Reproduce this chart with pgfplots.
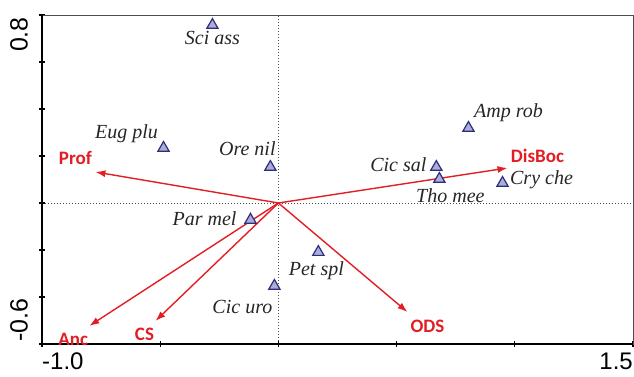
\documentclass[border=0pt]{standalone}
\usepackage{fontspec}
\usepackage{pgfplots}
\usepackage{pgfplotstable}
\pgfplotsset{compat=1.18}
\usetikzlibrary{arrows.meta}
\setmainfont{Liberation Serif}
\newfontfamily\envfont{Carlito}
\newfontfamily\tickfont{Liberation Sans}

\definecolor{arrowred}{RGB}{226,30,36}
\definecolor{trifill}{RGB}{172,172,214}
\definecolor{triedge}{RGB}{45,45,125}

% species scores: x y, label offset (pt), name
\pgfplotstableread{
x      y      dx  dy  label
-0.279  0.757   0 -13 {Sci ass}
-0.486  0.234 -37  14 {Eug plu}
-0.034  0.153 -23  18 {Ore nil}
 0.804  0.319  40  15 {Amp rob}
 0.668  0.153 -38   2 {Cic sal}
 0.681  0.102  11 -17 {Tho mee}
 0.948  0.085  39   3 {Cry che}
-0.118 -0.072 -46   1 {Par mel}
-0.017 -0.353 -32 -21 {Cic uro}
 0.169 -0.209  -2 -19 {Pet spl}
}\species

% environmental arrows: tip x y, label offset (pt), name
\pgfplotstableread{
x      y      dx  dy  label
-0.774  0.132 -20  14 Prof
 0.969  0.149  30  12 DisBoc
-0.800 -0.523 -16 -14 Anc
-0.520 -0.502 -11 -13 CS
 0.546 -0.464  20 -14 ODS
}\envvars

\begin{document}
\begin{tikzpicture}
\useasboundingbox (-42pt,-33pt) rectangle (592pt,344pt);
\begin{axis}[
  at={(0pt,0pt)}, anchor=south west,
  scale only axis,
  width=591pt, height=329pt,
  xmin=-1.0, xmax=1.5, ymin=-0.6, ymax=0.8,
  xtick={-1,-0.5,0,0.5,1,1.5},
  ytick={-0.6,-0.4,-0.2,0,0.2,0.4,0.6,0.8},
  xticklabels={}, yticklabels={},
  xtick pos=bottom, ytick pos=left,
  tick align=center, major tick length=6pt,
  tick style={black, line width=1.2pt},
  axis line style={black!70, line width=0.9pt},
  clip=false,
]
% zero lines
\draw[black!70, line width=0.9pt, dash pattern=on 1pt off 2pt] (axis cs:0,-0.6) -- (axis cs:0,0.8);
\draw[black!70, line width=0.9pt, dash pattern=on 1pt off 2pt] (axis cs:-1,0) -- (axis cs:1.5,0);

% arrows
\addplot[arrowred, line width=1.4pt, -{Latex[length=10pt,width=7pt]},
  quiver={u=\thisrow{x}, v=\thisrow{y}}]
  table[x expr=0, y expr=0] {\envvars};
\addplot[draw=none, mark=none, point meta=explicit symbolic,
  visualization depends on={\thisrow{dx}\as\dx},
  visualization depends on={\thisrow{dy}\as\dy},
  nodes near coords,
  every node near coord/.append style={anchor=center, inner sep=0pt,
    xshift=\dx pt, yshift=\dy pt, text=arrowred,
    font=\envfont\bfseries\fontsize{19}{19}\selectfont}]
  table[meta=label] {\envvars};

% species
\addplot[only marks, mark=triangle*, mark size=6.5pt,
  mark options={fill=trifill, draw=triedge, line width=1.2pt},
  point meta=explicit symbolic,
  visualization depends on={\thisrow{dx}\as\dx},
  visualization depends on={\thisrow{dy}\as\dy},
  nodes near coords,
  every node near coord/.append style={anchor=center, inner sep=0pt,
    xshift=\dx pt, yshift=\dy pt, text=black!85,
    font=\itshape\fontsize{20}{20}\selectfont}]
  table[meta=label] {\species};

\draw[black, line width=1.6pt] (rel axis cs:0,1) -- (rel axis cs:0,0) -- (rel axis cs:1,0);

% end labels of the axes
\node[font=\tickfont\fontsize{24}{24}\selectfont, inner sep=0pt, anchor=north west]
  at ([yshift=-9pt]rel axis cs:0,0) {-1.0};
\node[font=\tickfont\fontsize{24}{24}\selectfont, inner sep=0pt, anchor=north east]
  at ([yshift=-9pt]rel axis cs:1,0) {1.5};
\node[font=\tickfont\fontsize{25}{25}\selectfont, inner sep=0pt, rotate=90, anchor=south east]
  at ([xshift=-14pt,yshift=-2pt]rel axis cs:0,1) {0.8};
\node[font=\tickfont\fontsize{25}{25}\selectfont, inner sep=0pt, rotate=90, anchor=south west]
  at ([xshift=-14pt,yshift=2pt]rel axis cs:0,0) {-0.6};
\end{axis}
\end{tikzpicture}
\end{document}
